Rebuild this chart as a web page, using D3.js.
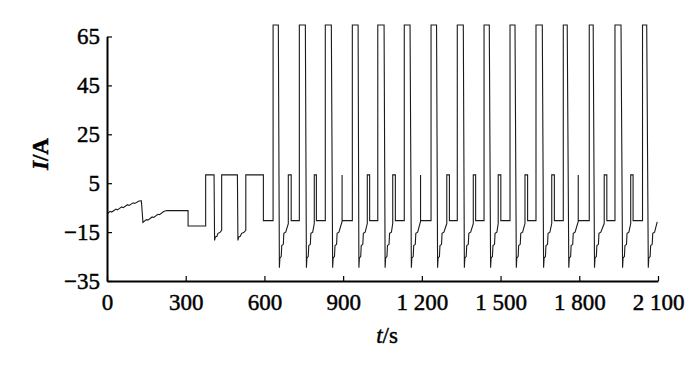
<!DOCTYPE html>
<html>
<head>
<meta charset="utf-8">
<script src="https://cdn.jsdelivr.net/npm/d3@7"></script>
<style>
  body { margin: 0; background: #fff; }
  .axis text { font-family: "Liberation Serif", "Times New Roman", serif; font-size: 23px; fill: #000; stroke: #000; stroke-width: 0.45; }
  .axis path, .axis line { stroke: #000; }
  .title { font-family: "Liberation Serif", "Times New Roman", serif; font-size: 23px; fill: #000; stroke: #000; stroke-width: 0.45; }
</style>
</head>
<body>
<script>
const W = 700, H = 369;
const margin = {top: 36.5, right: 42, bottom: 88, left: 107};
const width = W - margin.left - margin.right;
const height = H - margin.top - margin.bottom;

// tick values / labels
const xTicks = [0, 300, 600, 900, 1200, 1500, 1800, 2100];
const xTickLabels = ["0", "300", "600", "900", "1 200", "1 500", "1 800", "2 100"];
const yTicks = [-35, -15, 5, 25, 45, 65];

// current I (A) vs time t (s)
const startupCurrent = [
  [0,-7.6],[12,-6.5],[18,-6.8],[34,-5.6],[40,-5.9],[56,-4.7],[62,-5.0],[78,-3.8],[84,-4.1],
  [100,-3.0],[106,-3.3],[122,-2.3],[131,-2.2],[137,-11],[150,-9.9],[156,-10.1],[172,-8.8],
  [178,-9.0],[194,-7.7],[200,-7.9],[216,-6.6],[228,-6.2],[309,-6.2],[309,-12.5],[376,-12.5],
  [376,8.4],[408,8.4],[410,-18.4],[413,-17],[419,-16.7],[423,-15.5],[430,-15.2],[437,-14.3],
  [437,8.4],[497,8.4],[499,-18.4],[502,-17],[508,-16.7],[513,-15.5],[521,-15.2],[529,-14.3],
  [529,8.4],[596,8.4],[596,-10.3],[633,-10.3]
];

// one list per 100 s charge/discharge cycle
const cycleCurrent = [
  [[633,-10.3],[633,69.7],[653,69.7],[657,-29.6],[659,-25.5],[664,-25],[666,-20.5],[672,-20],[674,-15.5],[681,-15],[691,-11.5],[691,8.4],[702,8.4],[702,-10.3]],
  [[733,-10.3],[733,69.7],[756,69.7],[760,-29.6],[762,-25.5],[767,-25],[769,-20.5],[775,-20],[777,-15.5],[784,-15],[790,-11.5],[790,8.4],[798,8.4],[798,-10.3]],
  [[832,-10.3],[832,69.7],[855,69.7],[860,-29.6],[862,-25.5],[867,-25],[869,-20.5],[875,-20],[877,-15.5],[884,-15],[896,-10.6],[896,8.4],[896,-10.3]],
  [[935,-10.3],[935,69.7],[957,69.7],[960,-29.6],[962,-25.5],[967,-25],[969,-20.5],[975,-20],[977,-15.5],[984,-15],[992,-11.5],[992,8.4],[1001,8.4],[1001,-10.3]],
  [[1032,-10.3],[1032,69.7],[1056,69.7],[1060,-29.6],[1062,-25.5],[1067,-25],[1069,-20.5],[1075,-20],[1077,-15.5],[1084,-15],[1089,-11.5],[1089,8.4],[1099,8.4],[1099,-10.3]],
  [[1133,-10.3],[1133,69.7],[1155,69.7],[1160,-29.6],[1162,-25.5],[1167,-25],[1169,-20.5],[1175,-20],[1177,-15.5],[1184,-15],[1195,-10.6],[1195,8.4],[1195,-10.3]],
  [[1235,-10.3],[1235,69.7],[1256,69.7],[1260,-29.6],[1262,-25.5],[1267,-25],[1269,-20.5],[1275,-20],[1277,-15.5],[1284,-15],[1295,-11.5],[1295,8.4],[1305,8.4],[1305,-10.3]],
  [[1335,-10.3],[1335,69.7],[1358,69.7],[1362,-29.6],[1364,-25.5],[1369,-25],[1371,-20.5],[1377,-20],[1379,-15.5],[1386,-15],[1396,-11.5],[1396,8.4],[1405,8.4],[1405,-10.3]],
  [[1437,-10.3],[1437,69.7],[1457,69.7],[1462,-29.6],[1464,-25.5],[1469,-25],[1471,-20.5],[1477,-20],[1479,-15.5],[1486,-15],[1491,-11.5],[1491,8.4],[1501,8.4],[1501,-10.3]],
  [[1536,-10.3],[1536,69.7],[1555,69.7],[1560,-29.6],[1562,-25.5],[1567,-25],[1569,-20.5],[1575,-20],[1577,-15.5],[1584,-15],[1593,-11.5],[1593,8.4],[1603,8.4],[1603,-10.3]],
  [[1635,-10.3],[1635,69.7],[1659,69.7],[1664,-29.6],[1666,-25.5],[1671,-25],[1673,-20.5],[1679,-20],[1681,-15.5],[1688,-15],[1695,-11.5],[1695,8.4],[1705,8.4],[1705,-10.3]],
  [[1739,-10.3],[1739,69.7],[1754,69.7],[1760,-29.6],[1762,-25.5],[1767,-25],[1769,-20.5],[1775,-20],[1777,-15.5],[1784,-15],[1796,-10.6],[1796,8.4],[1796,-10.3]],
  [[1838,-10.3],[1838,69.7],[1853,69.7],[1858,-29.6],[1860,-25.5],[1865,-25],[1867,-20.5],[1873,-20],[1875,-15.5],[1882,-15],[1895,-11.5],[1895,8.4],[1905,8.4],[1905,-10.3]],
  [[1936,-10.3],[1936,69.7],[1959,69.7],[1965,-29.6],[1967,-25.5],[1972,-25],[1974,-20.5],[1980,-20],[1982,-15.5],[1989,-15],[1996,-11.5],[1996,8.4],[2005,8.4],[2005,-10.3]],
  [[2041,-10.3],[2041,69.7],[2057,69.7],[2063,-29.6],[2065,-25.5],[2070,-25],[2072,-20.5],[2078,-20],[2080,-15.5],[2087,-15],[2097,-10.8]]
];

var xScale = d3.scaleLinear().domain([0, 2100]).range([0, width]);
var yScale = d3.scaleLinear().domain([-35, 65]).range([height, 0]);

var svg = d3.select("body").append("svg")
    .attr("width", W)
    .attr("height", H)
    .append("g")
    .attr("transform", "translate(" + margin.left + "," + margin.top + ")");

var series = startupCurrent.concat(...cycleCurrent);

var line = d3.line()
    .x(function(d) { return xScale(d[0]); })
    .y(function(d) { return yScale(d[1]); });

svg.append("path")
    .datum(series)
    .attr("fill", "none")
    .attr("stroke", "#1a1a1a")
    .attr("stroke-width", 1.1)
    .attr("d", line);

// axes, ticks point inward
var xAxis = d3.axisBottom(xScale)
    .tickValues(xTicks)
    .tickFormat(function(d, i) { return xTickLabels[i]; })
    .tickSizeInner(-5).tickSizeOuter(0).tickPadding(13);
var yAxis = d3.axisLeft(yScale)
    .tickValues(yTicks)
    .tickSizeInner(-5).tickSizeOuter(0).tickPadding(7);

var gx = svg.append("g")
    .attr("class", "axis")
    .attr("transform", "translate(0," + height + ")")
    .call(xAxis);
var gy = svg.append("g")
    .attr("class", "axis")
    .call(yAxis);

gx.select(".domain").attr("stroke-width", 2);
gy.select(".domain").attr("stroke-width", 2);
gx.selectAll(".tick line").attr("stroke-width", 1.2);
gy.selectAll(".tick line").attr("stroke-width", 1.2);

// axis titles
var yTitle = svg.append("text")
    .attr("class", "title")
    .attr("transform", "translate(" + (39.5 - margin.left) + "," + (154 - margin.top) + ") rotate(-90)")
    .attr("text-anchor", "middle")
    .attr("dy", "0.35em")
    .style("font-weight", "bold");
yTitle.append("tspan").style("font-style", "italic").text("I");
yTitle.append("tspan").text("/A");

var xTitle = svg.append("text")
    .attr("class", "title")
    .attr("x", 387 - margin.left)
    .attr("y", 343 - margin.top)
    .attr("text-anchor", "middle");
xTitle.append("tspan").style("font-style", "italic").text("t");
xTitle.append("tspan").text("/s");
</script>
</body>
</html>
